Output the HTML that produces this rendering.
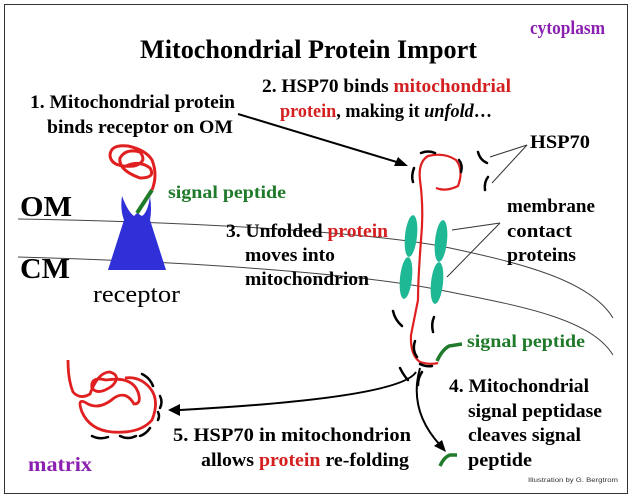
<!DOCTYPE html>
<html><head><meta charset="utf-8"><style>
html,body{margin:0;padding:0;background:#fff;}
svg{display:block;}
text{font-family:"Liberation Serif",serif;font-weight:bold;}
</style></head><body>
<svg width="632" height="498" viewBox="0 0 632 498" xmlns="http://www.w3.org/2000/svg">
<rect x="0" y="0" width="632" height="498" fill="#fff"/>
<rect x="4.5" y="4.5" width="623" height="489" fill="none" stroke="#333" stroke-width="1"/>

<path d="M18,219 C200,222 380,233 450,248 S590,280 613,318" fill="none" stroke="#444" stroke-width="1"/>
<path d="M18,257 C200,262 360,274 440,290 S590,318 613,355" fill="none" stroke="#444" stroke-width="1"/>

<text x="140" y="58" font-size="26" textLength="337" lengthAdjust="spacingAndGlyphs">Mitochondrial Protein Import</text>
<text x="530" y="34" font-size="19" fill="#8a1fb0" textLength="75" lengthAdjust="spacingAndGlyphs">cytoplasm</text>

<text x="30" y="108" font-size="19" textLength="205" lengthAdjust="spacingAndGlyphs">1. Mitochondrial protein</text>
<text x="47" y="133" font-size="19" textLength="186" lengthAdjust="spacingAndGlyphs">binds receptor on OM</text>

<text x="262" y="92" font-size="19" textLength="249" lengthAdjust="spacingAndGlyphs">2. HSP70 binds <tspan fill="#d42020">mitochondrial</tspan></text>
<text x="280" y="117" font-size="19" textLength="212" lengthAdjust="spacingAndGlyphs"><tspan fill="#d42020">protein</tspan>, making it <tspan font-style="italic">unfold</tspan>…</text>

<text x="530" y="148" font-size="19" textLength="60" lengthAdjust="spacingAndGlyphs">HSP70</text>

<text x="168" y="198" font-size="18" fill="#1f7a2a" textLength="118" lengthAdjust="spacingAndGlyphs">signal peptide</text>
<text x="20" y="216" font-size="28" textLength="52" lengthAdjust="spacingAndGlyphs">OM</text>
<text x="20" y="278" font-size="28" textLength="50" lengthAdjust="spacingAndGlyphs">CM</text>
<text x="93" y="302" font-size="24" style="font-weight:normal" textLength="87" lengthAdjust="spacingAndGlyphs">receptor</text>

<text x="226" y="237" font-size="19" textLength="162" lengthAdjust="spacingAndGlyphs">3. Unfolded <tspan fill="#d42020">protein</tspan></text>
<text x="245" y="261" font-size="19" textLength="90" lengthAdjust="spacingAndGlyphs">moves into</text>
<text x="245" y="285" font-size="19" textLength="124" lengthAdjust="spacingAndGlyphs">mitochondrion</text>

<text x="507" y="212" font-size="19" textLength="88" lengthAdjust="spacingAndGlyphs">membrane</text>
<text x="507" y="237" font-size="19" textLength="65" lengthAdjust="spacingAndGlyphs">contact</text>
<text x="507" y="261" font-size="19" textLength="69" lengthAdjust="spacingAndGlyphs">proteins</text>

<text x="467" y="347" font-size="18" fill="#1f7a2a" textLength="118" lengthAdjust="spacingAndGlyphs">signal peptide</text>

<text x="449" y="392" font-size="19" textLength="140" lengthAdjust="spacingAndGlyphs">4. Mitochondrial</text>
<text x="468" y="417" font-size="19" textLength="134" lengthAdjust="spacingAndGlyphs">signal peptidase</text>
<text x="468" y="441" font-size="19" textLength="113" lengthAdjust="spacingAndGlyphs">cleaves signal</text>
<text x="468" y="466" font-size="19" textLength="64" lengthAdjust="spacingAndGlyphs">peptide</text>

<text x="173" y="441" font-size="19" textLength="238" lengthAdjust="spacingAndGlyphs">5.  HSP70 in mitochondrion</text>
<text x="201" y="466" font-size="19" textLength="208" lengthAdjust="spacingAndGlyphs">allows <tspan fill="#d42020">protein</tspan> re-folding</text>

<text x="28" y="471" font-size="20" fill="#8a1fb0" textLength="64" lengthAdjust="spacingAndGlyphs">matrix</text>
<text x="528" y="482" font-size="6" style="font-family:'Liberation Sans',sans-serif;font-weight:normal" fill="#333" textLength="90" lengthAdjust="spacingAndGlyphs">Illustration by G. Bergtrom</text>

<line x1="238" y1="114" x2="400" y2="163" stroke="#000" stroke-width="2"/>
<polygon points="408,166 394,166 398,157" fill="#000"/>

<path d="M122,196 Q128,212 134,216 L137,213 L142,216 Q148,212 150,196 Q152,210 150,220 L166,270 L108,270 L124,220 Q120,210 122,196 Z" fill="#3030d8"/>
<line x1="137" y1="213" x2="152" y2="190" stroke="#1f7a2a" stroke-width="4"/>
<path d="M152,190 Q158,175 152,160 Q146,150 128,146 Q110,144 110,156 Q112,168 134,166 Q148,162 140,152 Q126,148 120,158 Q118,170 140,178 Q156,178 150,168 Q140,160 126,166" fill="none" stroke="#e02020" stroke-width="3"/>

<line x1="527" y1="145" x2="490" y2="157" stroke="#333" stroke-width="1"/>
<line x1="527" y1="145" x2="492" y2="183" stroke="#333" stroke-width="1"/>
<line x1="500" y1="223" x2="452" y2="230" stroke="#333" stroke-width="1"/>
<line x1="500" y1="223" x2="447" y2="277" stroke="#333" stroke-width="1"/>

<ellipse cx="411" cy="236" rx="6" ry="21" fill="#1fb894" transform="rotate(6 411 236)"/>
<ellipse cx="406" cy="278" rx="6" ry="21" fill="#1fb894" transform="rotate(6 406 278)"/>
<ellipse cx="441" cy="241" rx="6" ry="21" fill="#1fb894" transform="rotate(6 441 241)"/>
<ellipse cx="437" cy="283" rx="6" ry="21" fill="#1fb894" transform="rotate(6 437 283)"/>

<path d="M436,188 Q446,192 458,186 Q464,170 456,160 Q444,152 428,156 Q418,162 420,180 Q424,210 421,240 Q418,280 418,300 Q414,320 411,335 Q410,355 420,362 Q430,365 438,363" fill="none" stroke="#e02020" stroke-width="2.2"/>
<path d="M437,361 Q442,350 449,346 L462,344" fill="none" stroke="#1f7a2a" stroke-width="3.5"/>

<g fill="none" stroke="#000" stroke-width="2.5" stroke-linecap="round">
<path d="M421,153 Q428,150 435,153"/>
<path d="M414,168 Q411,176 413,182"/>
<path d="M459,160 Q463,165 461,172"/>
<path d="M478,152 Q480,160 487,163"/>
<path d="M488,177 Q484,182 485,190"/>
<path d="M393,311 Q395,320 402,326"/>
<path d="M434,317 Q431,324 433,332"/>
<path d="M415,341 Q412,350 417,357"/>
<path d="M400,368 Q404,376 408,380"/>
<path d="M422,372 Q418,378 418,385"/>
<path d="M420,364 Q426,367 432,366"/>
<path d="M142,374 Q150,378 153,386"/>
<path d="M160,396 Q163,402 160,408"/>
<path d="M158,412 Q160,416 158,420"/>
<path d="M150,428 Q146,434 140,436"/>
<path d="M120,436 Q128,440 136,436"/>
<path d="M92,436 Q100,440 108,437"/>
</g>

<path d="M68,360 Q68,380 73,392 Q80,400 90,394 Q98,372 110,372 Q122,376 112,386 Q98,396 92,388 Q90,376 106,380 Q132,376 138,392 Q142,404 134,404 Q126,390 114,398 Q100,410 88,404 Q76,396 82,412 Q90,430 112,432 Q140,434 152,420 Q160,400 150,388 Q140,376 125,378" fill="none" stroke="#e02020" stroke-width="2.8"/>

<path d="M416,372 Q400,398 180,410" fill="none" stroke="#000" stroke-width="2"/>
<polygon points="168,410 180,404 180,416" fill="#000"/>
<path d="M420,368 Q408,410 440,445" fill="none" stroke="#000" stroke-width="2"/>
<polygon points="446,452 434,446 442,440" fill="#000"/>
<path d="M440,466 Q444,457 450,455 L457,455" fill="none" stroke="#1f7a2a" stroke-width="3.5"/>
</svg>
</body></html>
